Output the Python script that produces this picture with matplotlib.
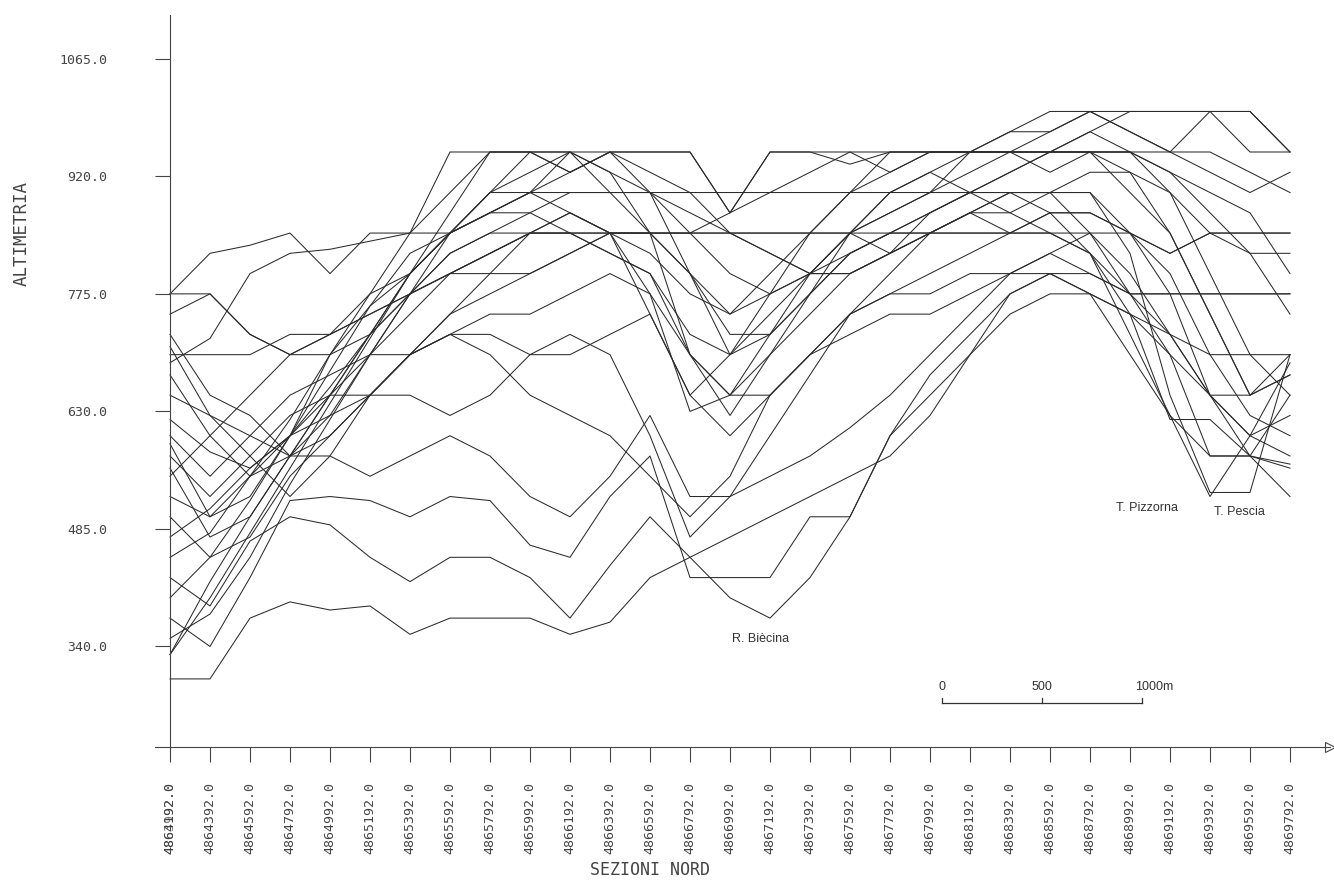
import matplotlib.pyplot as plt
import numpy as np

# sezioni nord (m), one every 200 m
nord = np.arange(4864192, 4869793, 200)

# quote (m) of each profile at each section
p01 = [300, 300, 375, 395, 385, 390, 355, 375, 375, 375, 355, 370, 425, 450, 475, 500, 525, 550, 575, 625, 700, 750, 775, 775, 750, 700, 650, 600, 575]
p02 = [330, 420, 500, 575, 650, 725, 800, 875, 950, 950, 925, 950, 900, 800, 700, 775, 850, 900, 950, 950, 950, 950, 975, 1000, 1000, 1000, 1000, 1000, 950]
p03 = [330, 400, 480, 560, 640, 720, 800, 850, 900, 900, 900, 900, 900, 900, 900, 900, 900, 900, 900, 900, 900, 900, 900, 900, 850, 825, 850, 850, 850]
p04 = [350, 380, 450, 540, 620, 700, 775, 850, 900, 925, 950, 950, 950, 950, 875, 950, 950, 935, 950, 950, 950, 950, 950, 950, 950, 950, 950, 925, 900]
p05 = [375, 340, 425, 520, 525, 520, 500, 525, 520, 465, 450, 525, 575, 425, 425, 425, 500, 500, 600, 675, 725, 775, 800, 775, 700, 625, 575, 575, 565]
p06 = [400, 450, 520, 600, 680, 760, 825, 850, 875, 900, 875, 850, 775, 630, 650, 725, 800, 850, 900, 925, 950, 975, 975, 1000, 975, 950, 1000, 950, 950]
p07 = [425, 390, 470, 500, 490, 450, 420, 450, 450, 425, 375, 440, 500, 450, 400, 375, 425, 500, 600, 650, 700, 775, 800, 800, 775, 725, 650, 575, 525]
p08 = [450, 480, 550, 620, 700, 760, 800, 850, 900, 950, 950, 925, 850, 700, 650, 700, 775, 850, 875, 900, 925, 950, 950, 950, 900, 850, 750, 650, 675]
p09 = [475, 510, 560, 600, 625, 650, 700, 750, 800, 850, 850, 850, 850, 850, 850, 850, 850, 850, 850, 850, 875, 900, 900, 850, 775, 775, 775, 775, 775]
p10 = [500, 450, 475, 550, 600, 650, 650, 625, 650, 700, 725, 700, 600, 475, 525, 600, 675, 750, 800, 850, 850, 850, 850, 825, 750, 620, 620, 575, 560]
p11 = [525, 500, 550, 575, 575, 550, 575, 600, 575, 525, 500, 550, 625, 525, 525, 550, 575, 610, 650, 700, 750, 800, 825, 850, 800, 725, 650, 600, 625]
p12 = [550, 600, 650, 700, 725, 750, 775, 800, 825, 850, 875, 850, 750, 650, 700, 750, 800, 850, 900, 925, 900, 875, 850, 825, 775, 700, 575, 575, 650]
p13 = [575, 525, 575, 625, 650, 650, 700, 725, 700, 650, 625, 600, 550, 500, 550, 650, 700, 750, 775, 800, 825, 850, 875, 875, 850, 775, 650, 650, 675]
p14 = [600, 550, 600, 650, 675, 700, 700, 725, 725, 700, 700, 725, 750, 650, 600, 650, 700, 750, 775, 775, 800, 800, 825, 800, 775, 775, 775, 775, 775]
p15 = [650, 625, 600, 575, 600, 650, 700, 750, 775, 800, 825, 850, 850, 850, 850, 850, 850, 850, 825, 850, 875, 850, 850, 850, 850, 825, 850, 850, 850]
p16 = [675, 600, 550, 600, 650, 700, 750, 800, 825, 850, 850, 825, 800, 700, 625, 700, 750, 800, 825, 850, 875, 900, 900, 900, 825, 650, 530, 530, 700]
p17 = [700, 700, 700, 725, 725, 750, 775, 800, 825, 850, 850, 850, 825, 775, 750, 775, 800, 825, 850, 875, 900, 900, 875, 825, 725, 625, 525, 600, 690]
p18 = [725, 650, 625, 575, 625, 700, 775, 825, 850, 875, 900, 900, 900, 875, 850, 825, 800, 800, 825, 850, 875, 875, 900, 925, 925, 850, 750, 650, 700]
p19 = [750, 775, 725, 700, 725, 775, 800, 850, 875, 900, 950, 925, 900, 850, 800, 775, 800, 850, 875, 900, 950, 950, 925, 950, 950, 925, 875, 825, 750]
p20 = [775, 825, 835, 850, 800, 850, 850, 950, 950, 950, 925, 950, 950, 950, 875, 950, 950, 950, 950, 950, 950, 950, 950, 975, 1000, 1000, 1000, 1000, 950]
p21 = [775, 775, 725, 700, 700, 725, 775, 825, 850, 850, 875, 850, 850, 850, 875, 900, 925, 950, 925, 950, 950, 950, 950, 950, 950, 925, 900, 875, 800]
p22 = [590, 500, 525, 600, 700, 775, 850, 900, 950, 950, 950, 900, 850, 800, 750, 800, 850, 900, 925, 950, 950, 975, 1000, 1000, 975, 950, 925, 900, 925]
p23 = [690, 720, 800, 825, 830, 840, 850, 850, 875, 900, 925, 950, 925, 900, 850, 825, 800, 800, 825, 875, 900, 925, 950, 950, 925, 900, 850, 825, 825]
p24 = [620, 580, 560, 600, 660, 725, 775, 800, 800, 800, 825, 850, 850, 800, 725, 725, 775, 825, 850, 875, 900, 925, 950, 975, 950, 900, 800, 700, 650]
p25 = [560, 475, 500, 575, 650, 725, 800, 850, 875, 875, 850, 825, 800, 725, 700, 725, 775, 825, 850, 850, 850, 850, 875, 875, 850, 800, 700, 625, 600]
p26 = [710, 625, 575, 525, 575, 650, 700, 725, 750, 750, 775, 800, 775, 700, 650, 650, 700, 725, 750, 750, 775, 800, 800, 775, 750, 725, 700, 700, 700]

profili = [p01, p02, p03, p04, p05, p06, p07, p08, p09, p10, p11, p12, p13,
           p14, p15, p16, p17, p18, p19, p20, p21, p22, p23, p24, p25, p26]

quote_tick = [340, 485, 630, 775, 920, 1065]

# place names and scale bar
nomi = ["T. Pizzorna", "T. Pescia", "R. Biècina"]
nomi_x = [4869077, 4869537, 4867147]
nomi_y = [511, 506, 349]
scala = [0, 500, 1000]

grigio = "#444444"
mono = "DejaVu Sans Mono"

fig = plt.figure(figsize=(13.34, 8.88), dpi=100)
ax = fig.add_axes([155 / 1334, 141 / 888, 1175 / 1334, 732 / 888])

for p in profili:
    ax.plot(nord, p, color="#2b2b2b", lw=0.75)

x0 = nord[0]
ax.set_xlim(x0 - 75, x0 + 5800)
ax.set_ylim(216, 1119)

ax.spines["top"].set_visible(False)
ax.spines["right"].set_visible(False)
ax.spines["left"].set_position(("data", x0))
ax.spines["left"].set_color(grigio)
ax.spines["bottom"].set_color(grigio)
ax.spines["left"].set_linewidth(0.8)
ax.spines["bottom"].set_linewidth(0.8)

# arrow at the end of the x axis
ax.plot([x0 + 5800], [216], marker=">", ms=7, mfc="white", mec=grigio,
        mew=0.8, clip_on=False)

ax.set_yticks(quote_tick)
ax.set_yticklabels(["%.1f" % q for q in quote_tick], fontfamily=mono,
                   fontsize=9.5, color=grigio)
ax.tick_params(axis="y", length=11, width=0.8, color=grigio, pad=34)

ax.set_xticks(nord)
ax.set_xticklabels(["%.1f" % n for n in nord], rotation=90, fontfamily=mono,
                   fontsize=9.5, color=grigio, va="top")
ax.tick_params(axis="x", length=11, width=0.8, color=grigio, pad=14)

# the origin label is printed on top of the first section label
ax.annotate("%.1f" % (x0 - 200), xy=(x0, 0), xycoords=("data", "axes fraction"),
            xytext=(0, -25), textcoords="offset points", rotation=90,
            ha="center", va="top", fontfamily=mono, fontsize=9.5,
            color=grigio, alpha=0.7)

fig.text(22 / 1334, 1 - 233 / 888, "ALTIMETRIA", rotation=90, ha="center",
         va="center", fontfamily=mono, fontsize=12.5, color=grigio)
fig.text(650 / 1334, 1 - 870 / 888, "SEZIONI NORD", ha="center", va="center",
         fontfamily=mono, fontsize=12, color=grigio)

for nome, xn, yn in zip(nomi, nomi_x, nomi_y):
    ax.text(xn, yn, nome, ha="center", va="center", fontsize=9,
            fontfamily="Liberation Sans", color="#333333")

# scale bar, 1000 m along the northing axis
sx = 4868052
ax.plot([sx, sx + 1000], [270, 270], color="#333333", lw=0.9)
for s in scala:
    ax.plot([sx + s, sx + s], [270, 277], color="#333333", lw=0.9)
    lab = "%dm" % s if s == 1000 else "%d" % s
    ax.text(sx + s + (60 if s == 1000 else 0), 282, lab, ha="center",
            va="bottom", fontsize=9, fontfamily="Liberation Sans", color="#333333")

fig.savefig("out.png", dpi=100, facecolor="white")
